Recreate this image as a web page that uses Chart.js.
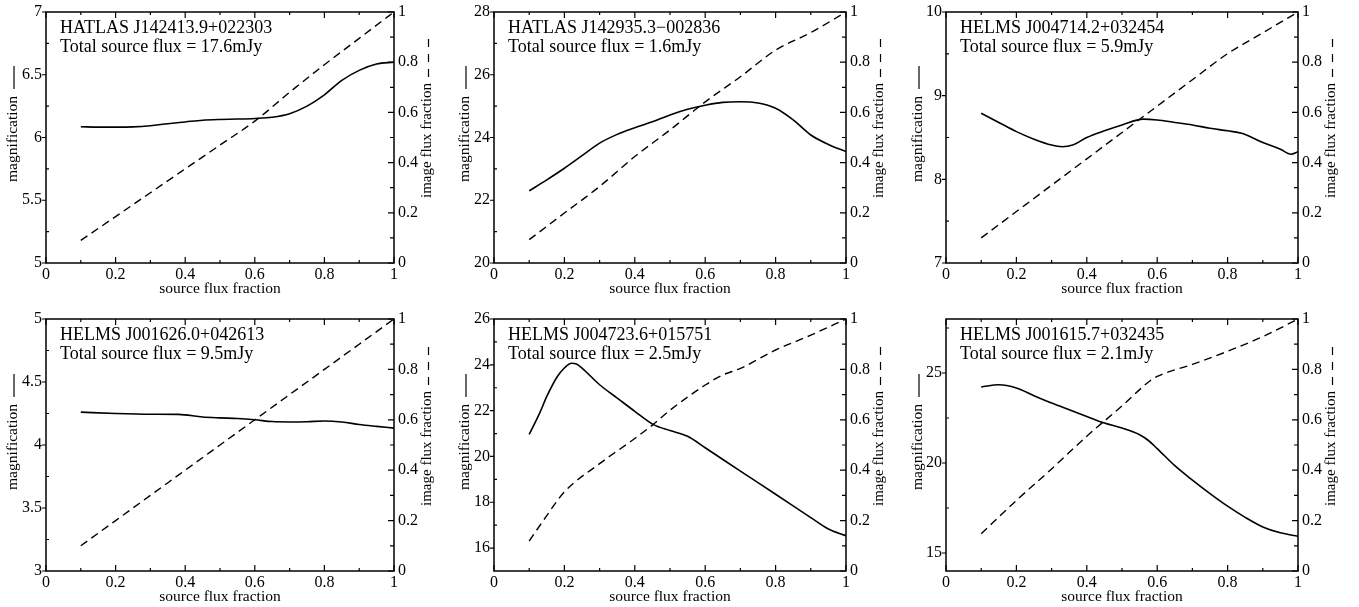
<!DOCTYPE html>
<html><head><meta charset="utf-8">
<script src="https://cdn.jsdelivr.net/npm/chart.js@4.4.1/dist/chart.umd.min.js"></script>
<style>
html,body{margin:0;padding:0;background:#fff;width:1359px;height:607px;overflow:hidden;position:relative}
.panel{position:absolute}
</style></head><body>
<script>
// ---------- shared axis ticks ----------
const xTicks = [0, 0.2, 0.4, 0.6, 0.8, 1];
const xMinor = [0.1, 0.3, 0.5, 0.7, 0.9];
const fracTicks = [0, 0.2, 0.4, 0.6, 0.8, 1];
const fracMinor = [0.1, 0.3, 0.5, 0.7, 0.9];

// ---------- panel 1 ----------
const p1Name = "HATLAS J142413.9+022303";
const p1Flux = "Total source flux = 17.6mJy";
const p1MagRange = [5, 7];
const p1MagTicks = [5, 5.5, 6, 6.5, 7];
const p1MagMinor = [5.25, 5.75, 6.25, 6.75];
const p1MagX = [0.10,0.15,0.20,0.25,0.30,0.35,0.40,0.45,0.50,0.55,0.60,0.65,0.70,0.75,0.80,0.85,0.90,0.95,1.00];
const p1Mag  = [6.086,6.083,6.083,6.085,6.094,6.110,6.124,6.138,6.144,6.147,6.152,6.162,6.19,6.25,6.34,6.455,6.535,6.585,6.600];
const p1FracX = [0.1,0.2,0.3,0.4,0.5,0.6,0.7,0.8,0.9,1.0];
const p1Frac  = [0.09,0.185,0.28,0.375,0.47,0.565,0.68,0.79,0.895,1.0];

// ---------- panel 2 ----------
const p2Name = "HATLAS J142935.3\u2212002836";
const p2Flux = "Total source flux = 1.6mJy";
const p2MagRange = [20, 28];
const p2MagTicks = [20, 22, 24, 26, 28];
const p2MagMinor = [21, 23, 25, 27];
const p2MagX = [0.10,0.15,0.20,0.25,0.30,0.35,0.40,0.45,0.50,0.55,0.60,0.65,0.70,0.75,0.80,0.85,0.90,0.95,1.00];
const p2Mag  = [22.30,22.65,23.02,23.42,23.82,24.10,24.31,24.50,24.72,24.90,25.03,25.12,25.14,25.10,24.93,24.56,24.08,23.78,23.55];
const p2FracX = [0.1,0.2,0.3,0.4,0.5,0.6,0.7,0.8,0.9,1.0];
const p2Frac  = [0.093,0.199,0.305,0.424,0.53,0.642,0.742,0.848,0.918,1.0];

// ---------- panel 3 ----------
const p3Name = "HELMS J004714.2+032454";
const p3Flux = "Total source flux = 5.9mJy";
const p3MagRange = [7, 10];
const p3MagTicks = [7, 8, 9, 10];
const p3MagMinor = [7.5, 8.5, 9.5];
const p3MagX = [0.10,0.15,0.20,0.25,0.30,0.33,0.36,0.40,0.45,0.50,0.56,0.60,0.65,0.70,0.75,0.80,0.84,0.90,0.95,0.98,1.00];
const p3Mag  = [8.79,8.68,8.57,8.48,8.41,8.39,8.41,8.50,8.58,8.65,8.72,8.71,8.68,8.65,8.61,8.58,8.55,8.44,8.36,8.30,8.33];
const p3FracX = [0.1,0.2,0.3,0.4,0.5,0.6,0.7,0.8,0.9,1.0];
const p3Frac  = [0.1,0.205,0.31,0.415,0.52,0.625,0.73,0.834,0.917,1.0];

// ---------- panel 4 ----------
const p4Name = "HELMS J001626.0+042613";
const p4Flux = "Total source flux = 9.5mJy";
const p4MagRange = [3, 5];
const p4MagTicks = [3, 3.5, 4, 4.5, 5];
const p4MagMinor = [3.25, 3.75, 4.25, 4.75];
const p4MagX = [0.10,0.20,0.30,0.38,0.45,0.50,0.55,0.60,0.65,0.70,0.75,0.80,0.85,0.90,0.95,1.00];
const p4Mag  = [4.261,4.25,4.244,4.243,4.222,4.215,4.21,4.20,4.186,4.183,4.185,4.19,4.182,4.163,4.148,4.134];
const p4FracX = [0.1,0.2,0.3,0.4,0.5,0.6,0.7,0.8,0.9,1.0];
const p4Frac  = [0.1,0.2,0.3,0.4,0.5,0.6,0.7,0.8,0.9,1.0];

// ---------- panel 5 ----------
const p5Name = "HELMS J004723.6+015751";
const p5Flux = "Total source flux = 2.5mJy";
const p5MagRange = [15, 26];
const p5MagTicks = [16, 18, 20, 22, 24, 26];
const p5MagMinor = [17, 19, 21, 23, 25];
const p5MagX = [0.10,0.13,0.15,0.18,0.20,0.22,0.234,0.25,0.30,0.35,0.40,0.453,0.50,0.55,0.60,0.70,0.80,0.90,0.95,1.00];
const p5Mag  = [20.96,21.9,22.62,23.49,23.86,24.07,24.04,23.86,23.13,22.55,21.97,21.39,21.13,20.88,20.38,19.36,18.35,17.33,16.83,16.54];
const p5FracX = [0.1,0.15,0.2,0.3,0.4,0.45,0.5,0.6,0.65,0.7,0.8,0.9,1.0];
const p5Frac  = [0.119,0.22,0.314,0.426,0.526,0.579,0.638,0.738,0.778,0.804,0.877,0.936,1.0];

// ---------- panel 6 ----------
const p6Name = "HELMS J001615.7+032435";
const p6Flux = "Total source flux = 2.1mJy";
const p6MagRange = [14, 28];
const p6MagTicks = [15, 20, 25];
const p6MagMinor = [17.5, 22.5, 27.5];
const p6MagX = [0.10,0.15,0.20,0.25,0.30,0.35,0.40,0.45,0.50,0.55,0.575,0.60,0.65,0.70,0.75,0.80,0.85,0.90,0.95,1.00];
const p6Mag  = [24.22,24.35,24.17,23.74,23.33,22.96,22.59,22.22,21.94,21.57,21.25,20.80,19.85,19.05,18.30,17.60,16.98,16.45,16.12,15.93];
const p6FracX = [0.1,0.2,0.3,0.4,0.5,0.58,0.6,0.7,0.8,0.9,1.0];
const p6Frac  = [0.148,0.28,0.405,0.535,0.655,0.755,0.772,0.82,0.872,0.93,1.0];

// ---------- layout ----------
const FONT = "'Liberation Serif', 'Times New Roman', serif";
const panels = [
  {name:p1Name, flux:p1Flux, range:p1MagRange, ticks:p1MagTicks, minor:p1MagMinor, mx:p1MagX, my:p1Mag, fx:p1FracX, fy:p1Frac, L:46,  R:394,  T:12,  B:263, off:33},
  {name:p2Name, flux:p2Flux, range:p2MagRange, ticks:p2MagTicks, minor:p2MagMinor, mx:p2MagX, my:p2Mag, fx:p2FracX, fy:p2Frac, L:494, R:846,  T:12,  B:263, off:29},
  {name:p3Name, flux:p3Flux, range:p3MagRange, ticks:p3MagTicks, minor:p3MagMinor, mx:p3MagX, my:p3Mag, fx:p3FracX, fy:p3Frac, L:946, R:1298, T:12,  B:263, off:28},
  {name:p4Name, flux:p4Flux, range:p4MagRange, ticks:p4MagTicks, minor:p4MagMinor, mx:p4MagX, my:p4Mag, fx:p4FracX, fy:p4Frac, L:46,  R:394,  T:319, B:571, off:33},
  {name:p5Name, flux:p5Flux, range:p5MagRange, ticks:p5MagTicks, minor:p5MagMinor, mx:p5MagX, my:p5Mag, fx:p5FracX, fy:p5Frac, L:494, R:846,  T:319, B:571, off:29},
  {name:p6Name, flux:p6Flux, range:p6MagRange, ticks:p6MagTicks, minor:p6MagMinor, mx:p6MagX, my:p6Mag, fx:p6FracX, fy:p6Frac, L:946, R:1298, T:319, B:571, off:28},
];

const LEFTW = 46, RIGHTW = 60, BOTH = 40, TOPP = 12;

const fmt = v => String(+(+v).toFixed(3));

const framePlugin = {
  id: 'frame',
  afterDraw(chart) {
    const p = chart.options.plugins.frame;
    const {ctx, chartArea: a, scales} = chart;
    ctx.save();
    ctx.strokeStyle = '#000';
    ctx.fillStyle = '#000';
    ctx.lineWidth = 1.5;
    ctx.setLineDash([]);
    ctx.strokeRect(a.left, a.top, a.right - a.left, a.bottom - a.top);
    ctx.lineWidth = 1.2;
    ctx.beginPath();
    const seg = (x1, y1, x2, y2) => { ctx.moveTo(x1, y1); ctx.lineTo(x2, y2); };
    xTicks.forEach(v => { const x = scales.x.getPixelForValue(v); seg(x, a.bottom, x, a.bottom - 6); seg(x, a.top, x, a.top + 6); });
    xMinor.forEach(v => { const x = scales.x.getPixelForValue(v); seg(x, a.bottom, x, a.bottom - 3); seg(x, a.top, x, a.top + 3); });
    p.ticks.forEach(v => { const y = scales.y.getPixelForValue(v); seg(a.left - 4, y, a.left, y); });
    p.minor.forEach(v => { const y = scales.y.getPixelForValue(v); seg(a.left, y, a.left + 3, y); });
    fracTicks.forEach(v => { const y = scales.y2.getPixelForValue(v); seg(a.right, y, a.right - 6, y); });
    fracMinor.forEach(v => { const y = scales.y2.getPixelForValue(v); seg(a.right, y, a.right - 4, y); });
    ctx.stroke();

    // annotation
    ctx.font = "18px " + FONT;
    ctx.textAlign = 'left';
    ctx.textBaseline = 'alphabetic';
    ctx.fillText(p.name, a.left + 14, a.top + 21);
    ctx.fillText(p.flux, a.left + 14, a.top + 40);

    // bottom title
    ctx.font = "15.5px " + FONT;
    ctx.textAlign = 'center';
    ctx.fillText('source flux fraction', (a.left + a.right) / 2, a.bottom + 30);

    // left title
    ctx.save();
    ctx.translate(a.left - p.off, a.bottom - 81);
    ctx.rotate(-Math.PI / 2);
    ctx.textAlign = 'left';
    ctx.textBaseline = 'middle';
    const t1 = 'magnification';
    ctx.fillText(t1, 0, 0);
    const w1 = ctx.measureText(t1).width;
    ctx.lineWidth = 1.2;
    ctx.beginPath(); ctx.moveTo(w1 + 7, 1); ctx.lineTo(w1 + 30, 1); ctx.stroke();
    ctx.restore();

    // right title
    ctx.save();
    ctx.font = "15px " + FONT;
    ctx.translate(a.right + 33.5, a.bottom - 65);
    ctx.rotate(-Math.PI / 2);
    ctx.textAlign = 'left';
    ctx.textBaseline = 'middle';
    const t2 = 'image flux fraction';
    ctx.fillText(t2, 0, 0);
    const w2 = ctx.measureText(t2).width;
    ctx.lineWidth = 1.2;
    ctx.setLineDash([8, 7]);
    ctx.beginPath(); ctx.moveTo(w2 + 6, 1); ctx.lineTo(w2 + 44, 1); ctx.stroke();
    ctx.restore();

    ctx.restore();
  }
};

const zeroPad = s => { s.paddingTop = 0; s.paddingBottom = 0; s.paddingLeft = 0; s.paddingRight = 0; };
const tickFont = {family: FONT, size: 16};

panels.forEach((p, i) => {
  const div = document.createElement('div');
  div.className = 'panel';
  const W = (p.R - p.L) + LEFTW + RIGHTW;
  const H = (p.B - p.T) + TOPP + BOTH;
  div.style.left = (p.L - LEFTW) + 'px';
  div.style.top = (p.T - TOPP) + 'px';
  div.style.width = W + 'px';
  div.style.height = H + 'px';
  const cv = document.createElement('canvas');
  cv.width = W; cv.height = H;
  cv.style.width = W + 'px'; cv.style.height = H + 'px';
  div.appendChild(cv);
  document.body.appendChild(div);

  const magPts = p.mx.map((x, k) => ({x, y: p.my[k]}));
  const fracPts = p.fx.map((x, k) => ({x, y: p.fy[k]}));

  new Chart(cv.getContext('2d'), {
    type: 'line',
    data: {
      datasets: [
        {data: magPts, yAxisID: 'y', borderColor: '#000', borderWidth: 1.6, pointRadius: 0, fill: false, cubicInterpolationMode: 'monotone'},
        {data: fracPts, yAxisID: 'y2', borderColor: '#000', borderWidth: 1.4, borderDash: [8, 5], pointRadius: 0, fill: false, cubicInterpolationMode: 'monotone'}
      ]
    },
    options: {
      responsive: false,
      animation: false,
      events: [],
      devicePixelRatio: 1,
      layout: {padding: {top: TOPP, left: 0, right: 0, bottom: 0}},
      plugins: {
        legend: {display: false},
        tooltip: {enabled: false},
        frame: {name: p.name, flux: p.flux, ticks: p.ticks, minor: p.minor, off: p.off}
      },
      scales: {
        x: {
          type: 'linear', position: 'bottom', min: 0, max: 1,
          grid: {display: false, drawTicks: false}, border: {display: false},
          ticks: {autoSkip: false, maxRotation: 0, padding: 2, color: '#000', font: tickFont, callback: v => fmt(v)},
          afterBuildTicks: s => { s.ticks = xTicks.map(v => ({value: v})); },
          afterFit: s => { s.height = BOTH; zeroPad(s); }
        },
        y: {
          type: 'linear', position: 'left', min: p.range[0], max: p.range[1],
          grid: {display: false, drawTicks: false}, border: {display: false},
          ticks: {autoSkip: false, padding: 4, color: '#000', font: tickFont, callback: v => fmt(v)},
          afterBuildTicks: s => { s.ticks = p.ticks.map(v => ({value: v})); },
          afterFit: s => { s.width = LEFTW; zeroPad(s); }
        },
        y2: {
          type: 'linear', position: 'right', min: 0, max: 1,
          grid: {display: false, drawTicks: false}, border: {display: false},
          ticks: {autoSkip: false, padding: 4, color: '#000', font: tickFont, callback: v => fmt(v)},
          afterBuildTicks: s => { s.ticks = fracTicks.map(v => ({value: v})); },
          afterFit: s => { s.width = RIGHTW; zeroPad(s); }
        }
      }
    },
    plugins: [framePlugin]
  });
});
</script>
</body></html>
